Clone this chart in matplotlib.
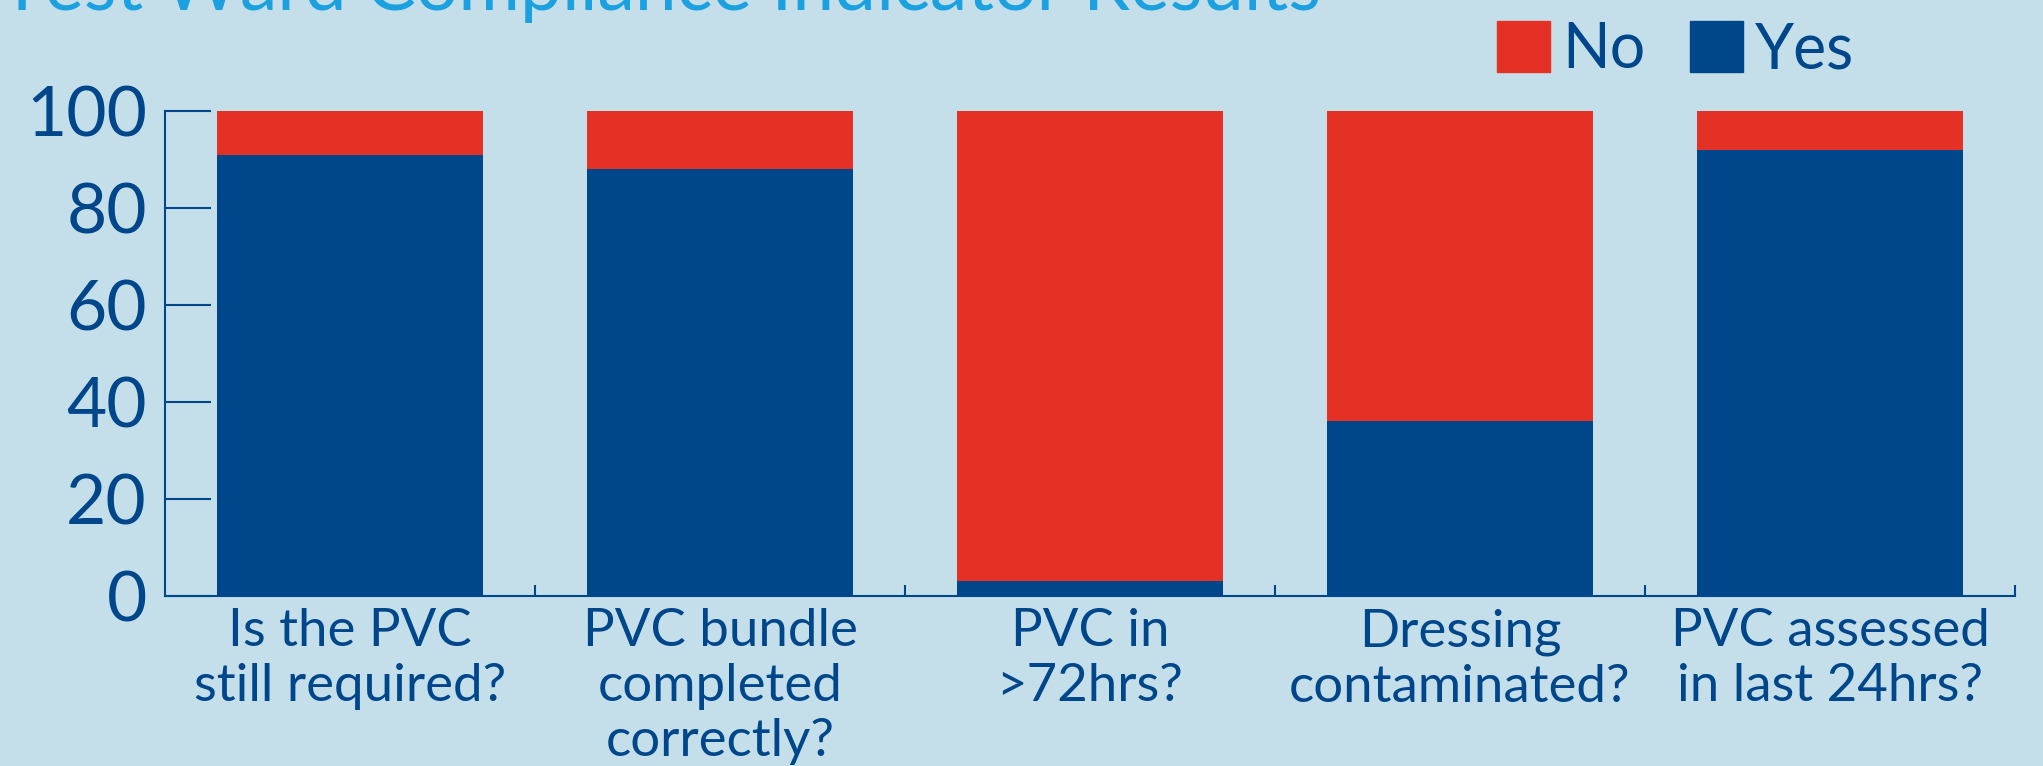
import numpy as np
import matplotlib.pyplot as plt
from matplotlib.patches import Patch

# compliance indicators (percent)
categories = ['Is the PVC\nstill required?',
              'PVC bundle\ncompleted\ncorrectly?',
              'PVC in\n>72hrs?',
              'Dressing\ncontaminated?',
              'PVC assessed\nin last 24hrs?']
yes_pct = [91, 88, 3, 36, 92]
no_pct = [9, 12, 97, 64, 8]
y_ticks = [0, 20, 40, 60, 80, 100]

blue = '#00468A'
red = '#E43025'
bg = '#C4DFEA'

plt.rcParams['font.family'] = ['Lato', 'DejaVu Sans']

fig = plt.figure(figsize=(20.43, 7.66), dpi=100, facecolor=bg)
ax = fig.add_axes([165 / 2043, 1 - 596 / 766, (2015 - 165) / 2043, (596 - 111) / 766])
ax.set_facecolor(bg)

x = np.arange(len(categories))
ax.bar(x, yes_pct, width=0.72, color=blue, label='Yes')
ax.bar(x, no_pct, width=0.72, bottom=yes_pct, color=red, label='No')

ax.set_xlim(-0.5, len(categories) - 0.5)
ax.set_ylim(0, 100)

for s in ['top', 'right']:
    ax.spines[s].set_visible(False)
for s in ['left', 'bottom']:
    ax.spines[s].set_color(blue)
    ax.spines[s].set_linewidth(1.5)

ax.set_yticks(y_ticks)
ax.tick_params(axis='y', direction='in', length=33, width=1.5, color=blue,
               labelsize=50, labelcolor=blue, pad=13)
ax.set_xticks(x)
ax.set_xticklabels(categories, linespacing=1.2)
ax.tick_params(axis='x', which='major', length=0, labelsize=38, labelcolor=blue, pad=9)
ax.set_xticks(np.arange(0.5, len(categories)), minor=True)
ax.tick_params(axis='x', which='minor', direction='in', length=8, width=1.5, color=blue)

handles = [Patch(color=red, label='No'), Patch(color=blue, label='Yes')]
fig.legend(handles=handles, loc='center left', bbox_to_anchor=(1497 / 2043, 1 - 50 / 766),
           ncol=2, frameon=False, fontsize=45, labelcolor=blue,
           handlelength=0.85, handleheight=0.88, handletextpad=0.2,
           columnspacing=0.7, borderpad=0, borderaxespad=0)

# title sits partly above the top edge, as in the original
fig.text(0.0, 1 - 10 / 766, 'Test Ward Compliance Indicator Results',
         fontsize=54, color='#1BA1DF', va='baseline', ha='left')

fig.savefig('out.png', dpi=100, facecolor=bg)
